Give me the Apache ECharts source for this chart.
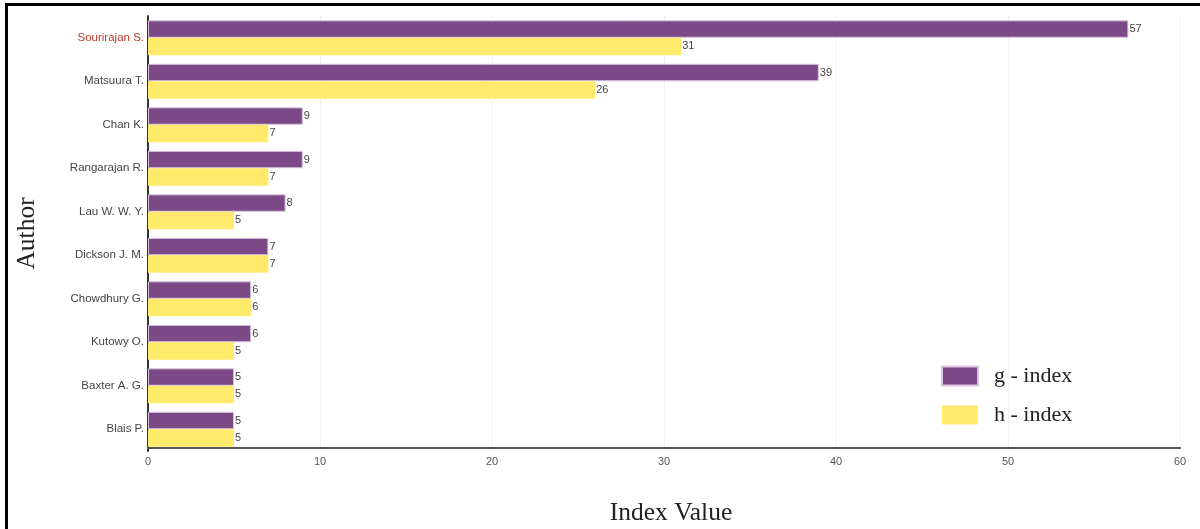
<!DOCTYPE html>
<html>
<head>
<meta charset="utf-8">
<script src="https://cdn.jsdelivr.net/npm/echarts@6/dist/echarts.min.js"></script>
<style>html,body{margin:0;padding:0;background:#fff;overflow:hidden;}#c{width:1200px;height:529px;}</style>
</head>
<body>
<div id="c"></div>
<script>
const authors = ["Sourirajan S.", "Matsuura T.", "Chan K.", "Rangarajan R.", "Lau W. W. Y.", "Dickson J. M.", "Chowdhury G.", "Kutowy O.", "Baxter A. G.", "Blais P."];
const gIndex = [57, 39, 9, 9, 8, 7, 6, 6, 5, 5];
const hIndex = [31, 26, 7, 7, 5, 7, 6, 5, 5, 5];
const xTicks = [0, 10, 20, 30, 40, 50, 60];

const chart = echarts.init(document.getElementById('c'));
const labelStyle = {show: true, position: 'right', distance: 1, fontSize: 11, color: '#444', fontFamily: 'Liberation Sans, Arial, sans-serif'};
chart.setOption({
  animation: false,
  backgroundColor: '#fff',
  grid: {left: 148, right: 20, top: 16, bottom: 78, containLabel: false, outerBoundsMode: 'none'},
  legend: {
    orient: 'vertical', left: 941, top: 365, itemWidth: 36, itemHeight: 19, itemGap: 17,
    padding: 0,
    icon: 'rect',
    textStyle: {fontFamily: 'Liberation Serif, Times New Roman, serif', fontSize: 22, color: '#222', padding: [0,0,0,11]},
    data: ['g - index', 'h - index']
  },
  xAxis: {
    type: 'value', min: xTicks[0], max: xTicks[xTicks.length-1], interval: 10,
    offset: -3,
    name: 'Index Value', nameLocation: 'middle', nameGap: 52,
    nameTextStyle: {fontFamily: 'Liberation Serif, Times New Roman, serif', fontSize: 25.5, color: '#222', padding: [0,0,0,14]},
    axisLine: {show: true, lineStyle: {color: '#555', width: 2}},
    axisTick: {show: false},
    axisLabel: {fontSize: 11, color: '#555', margin: 8, fontFamily: 'Liberation Sans, Arial, sans-serif'},
    splitLine: {show: true, lineStyle: {color: '#f2f2f2', width: 1}}
  },
  yAxis: {
    type: 'category', data: authors, inverse: true,
    name: 'Author', nameLocation: 'middle', nameGap: 108, nameRotate: 90,
    nameTextStyle: {fontFamily: 'Liberation Serif, Times New Roman, serif', fontSize: 25.5, color: '#222'},
    axisLine: {show: true, lineStyle: {color: '#333', width: 2}},
    axisTick: {show: false},
    axisLabel: {fontSize: 11.5, margin: 4, fontFamily: 'Liberation Sans, Arial, sans-serif',
      color: function (v, i) { return i === 0 ? '#c0392b' : '#444'; }}
  },
  series: [
    {name: 'g - index', type: 'bar', data: gIndex, barGap: '0%', barCategoryGap: '20%',
     itemStyle: {color: '#7b4a86', borderColor: '#d8c4dc', borderWidth: 1}, label: labelStyle},
    {name: 'h - index', type: 'bar', data: hIndex, barGap: '0%', barCategoryGap: '20%',
     itemStyle: {color: '#ffea6b'}, label: labelStyle}
  ],
  graphic: [
    {type: 'rect', shape: {x: 5, y: 3, width: 1195, height: 3}, style: {fill: '#000'}},
    {type: 'rect', shape: {x: 5, y: 3, width: 3, height: 526}, style: {fill: '#000'}}
  ]
});
</script>
</body>
</html>
